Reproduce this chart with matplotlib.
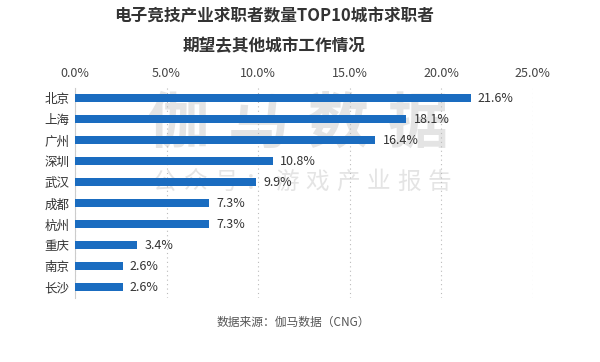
import matplotlib.pyplot as plt
import numpy as np

plt.rcParams['font.family'] = ['Noto Sans CJK SC', 'DejaVu Sans']

cities = ['北京', '上海', '广州', '深圳', '武汉', '成都', '杭州', '重庆', '南京', '长沙']
values = [21.6, 18.1, 16.4, 10.8, 9.9, 7.3, 7.3, 3.4, 2.6, 2.6]
xticks = [0, 5, 10, 15, 20, 25]

fig = plt.figure(figsize=(6, 3.62), dpi=100)
ax = fig.add_axes([0.125, 0.177, 0.763, 0.58])
ax.patch.set_alpha(0)

y = np.arange(len(cities))
ax.barh(y, values, height=0.38, color='#1a6cc0', zorder=3)
for yi, v in zip(y, values):
    ax.text(v + 0.4, yi, f'{v:.1f}%', va='center', ha='left', fontsize=9, color='#333333', zorder=4)

ax.set_yticks(y)
ax.set_yticklabels(cities, fontsize=9, color='#333333')
ax.set_ylim(len(cities) - 0.5, -0.5)
ax.set_xlim(0, 25)
ax.set_xticks(xticks)
ax.set_xticklabels([f'{t:.1f}%' for t in xticks], fontsize=9, color='#444444')
ax.xaxis.tick_top()
ax.tick_params(axis='both', length=0, pad=6)
ax.tick_params(axis='y', pad=4)
ax.grid(axis='x', linestyle=(0, (1, 3)), color='#bbbbbb', linewidth=0.8, zorder=0)
for s in ['top', 'right', 'bottom']:
    ax.spines[s].set_visible(False)
ax.spines['left'].set_color('#cccccc')

# watermark, behind the axes
for i, ch in enumerate('伽马数据'):
    fig.text((178 + i * 80) / 600, 1 - 125 / 362, ch, fontsize=44, fontweight='bold',
             color='#e4e4e4', ha='center', va='center', zorder=-1)
for i, ch in enumerate('公众号：游戏产业报告'):
    fig.text((165 + i * 30.5) / 600, 1 - 182 / 362, ch, fontsize=17,
             color='#e4e4e4', ha='center', va='center', zorder=-1)

fig.text(0.457, 0.955, '电子竞技产业求职者数量TOP10城市求职者', fontsize=12,
         fontweight='bold', color='#333333', ha='center', va='center')
fig.text(0.457, 0.874, '期望去其他城市工作情况', fontsize=12,
         fontweight='bold', color='#333333', ha='center', va='center')
fig.text(0.488, 0.11, '数据来源：伽马数据（CNG）', fontsize=8.5, color='#555555',
         ha='center', va='center')

fig.savefig('out.png', dpi=100, facecolor='white')
